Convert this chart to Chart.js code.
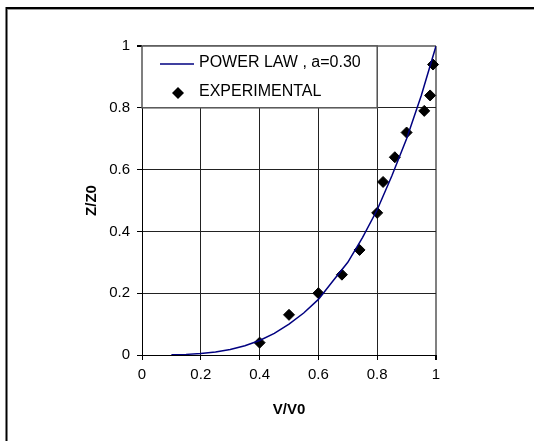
<!DOCTYPE html>
<html>
<head>
<meta charset="utf-8">
<script src="https://cdn.jsdelivr.net/npm/chart.js@4/dist/chart.umd.min.js"></script>
<style>
  html, body { margin: 0; padding: 0; background: #fff; }
  #wrap { width: 534px; height: 441px; }
</style>
</head>
<body>
<div id="wrap"><canvas id="chart" width="534" height="441"></canvas></div>
<script>
// power law curve
const lawX = [0.1, 0.15, 0.2, 0.25, 0.3, 0.35, 0.4, 0.45, 0.5, 0.55, 0.6, 0.65, 0.7, 0.75, 0.8, 0.85, 0.9, 0.95, 1.0];
const lawY = [0.0005, 0.002, 0.005, 0.01, 0.018, 0.03, 0.047, 0.07, 0.1, 0.136, 0.18, 0.24, 0.3, 0.38, 0.47, 0.58, 0.7, 0.84, 1.0];

// experimental points
const expX = [0.40, 0.50, 0.60, 0.68, 0.74, 0.80, 0.82, 0.86, 0.90, 0.96, 0.98, 0.99];
const expY = [0.04, 0.13, 0.20, 0.26, 0.34, 0.46, 0.56, 0.64, 0.72, 0.79, 0.84, 0.94];

const tickLabels = ['0', '0.2', '0.4', '0.6', '0.8', '1'];
const seriesNames = ['POWER LAW , a=0.30', 'EXPERIMENTAL'];

const FONT = 'Liberation Sans, Arial, sans-serif';

function toPoints(xs, ys) {
    return xs.map((x, i) => ({ x: x, y: ys[i] }));
}

function tickText(value) {
    const i = Math.round(value / 0.2);
    return tickLabels[i] !== undefined ? tickLabels[i] : '';
}

// outer frame of the picture
const framePlugin = {
    id: 'frame',
    beforeDraw(chart) {
        const c = chart.ctx;
        c.save();
        c.strokeStyle = '#000';
        c.lineWidth = 2;
        c.beginPath();
        c.moveTo(534, 8);
        c.lineTo(6.5, 8);
        c.lineTo(6.5, 441);
        c.stroke();
        c.strokeStyle = '#999';
        c.lineWidth = 1;
        c.beginPath();
        c.moveTo(8, 9.5);
        c.lineTo(534, 9.5);
        c.stroke();
        c.restore();
    }
};

// boxed legend sitting in the top-left corner of the plot
const legendBoxPlugin = {
    id: 'legendBox',
    afterDatasetsDraw(chart) {
        const c = chart.ctx;
        const a = chart.chartArea;
        const yScale = chart.scales.y;
        const xScale = chart.scales.x;
        const left = a.left;
        const top = a.top;
        const right = xScale.getPixelForValue(0.80);
        const bottom = yScale.getPixelForValue(0.8);
        c.save();
        c.fillStyle = '#fff';
        c.fillRect(left, top, right - left, bottom - top);
        c.strokeStyle = '#555';
        c.lineWidth = 1.5;
        c.strokeRect(left, top, right - left, bottom - top);

        const y1 = top + 17;
        const y2 = top + 46;
        c.strokeStyle = '#000080';
        c.lineWidth = 1.5;
        c.beginPath();
        c.moveTo(left + 18, y1 + 1);
        c.lineTo(left + 52, y1 + 1);
        c.stroke();

        const dx = left + 36, r = 6;
        c.fillStyle = '#000';
        c.beginPath();
        c.moveTo(dx - r, y2 + 1);
        c.lineTo(dx, y2 + 1 - r);
        c.lineTo(dx + r, y2 + 1);
        c.lineTo(dx, y2 + 1 + r);
        c.closePath();
        c.fill();

        c.fillStyle = '#000';
        c.font = '16px ' + FONT;
        c.textBaseline = 'middle';
        c.textAlign = 'left';
        c.fillText(seriesNames[0], left + 57, y1);
        c.fillText(seriesNames[1], left + 57, y2);
        c.restore();
    }
};

function gridColor(ctx) {
    return ctx.tick && ctx.tick.value === 1 ? '#808080' : '#222';
}
function gridWidth(ctx) {
    return ctx.tick && ctx.tick.value === 1 ? 2 : 1;
}

new Chart(document.getElementById('chart'), {
    data: {
        datasets: [{
            type: 'line',
            label: seriesNames[0],
            data: toPoints(lawX, lawY),
            borderColor: '#000080',
            borderWidth: 1.5,
            pointRadius: 0,
            fill: false,
            tension: 0
        }, {
            type: 'scatter',
            label: seriesNames[1],
            data: toPoints(expX, expY),
            clip: false,
            pointStyle: 'rectRot',
            pointRadius: 5.5,
            pointBackgroundColor: '#000',
            pointBorderColor: '#000',
            pointBorderWidth: 1
        }]
    },
    options: {
        responsive: false,
        animation: false,
        layout: { padding: { left: 0, right: 98, top: 46, bottom: 0 } },
        plugins: {
            legend: { display: false },
            tooltip: { enabled: false }
        },
        scales: {
            x: {
                type: 'linear',
                min: 0,
                max: 1,
                afterFit(scale) { scale.height = 86; },
                border: { color: '#000', width: 1 },
                grid: { color: gridColor, lineWidth: gridWidth, tickColor: '#000', tickLength: 5 },
                ticks: {
                    stepSize: 0.2,
                    padding: 6,
                    color: '#000',
                    font: { family: FONT, size: 15 },
                    maxRotation: 0,
                    callback: tickText
                },
                title: {
                    display: true,
                    text: 'V/V0',
                    color: '#000',
                    font: { family: FONT, size: 15, weight: 'bold' },
                    padding: { top: 0, bottom: 22 }
                }
            },
            y: {
                type: 'linear',
                min: 0,
                max: 1,
                afterFit(scale) { scale.width = 142; },
                border: { color: '#000', width: 1 },
                grid: { color: gridColor, lineWidth: gridWidth, tickColor: '#000', tickLength: 5 },
                ticks: {
                    stepSize: 0.2,
                    padding: 7,
                    color: '#000',
                    font: { family: FONT, size: 15 },
                    callback: tickText
                },
                title: {
                    display: true,
                    text: 'Z/Z0',
                    color: '#000',
                    font: { family: FONT, size: 15, weight: 'bold' },
                    padding: { top: 83, bottom: 0 }
                }
            }
        }
    },
    plugins: [framePlugin, legendBoxPlugin]
});
</script>
</body>
</html>
